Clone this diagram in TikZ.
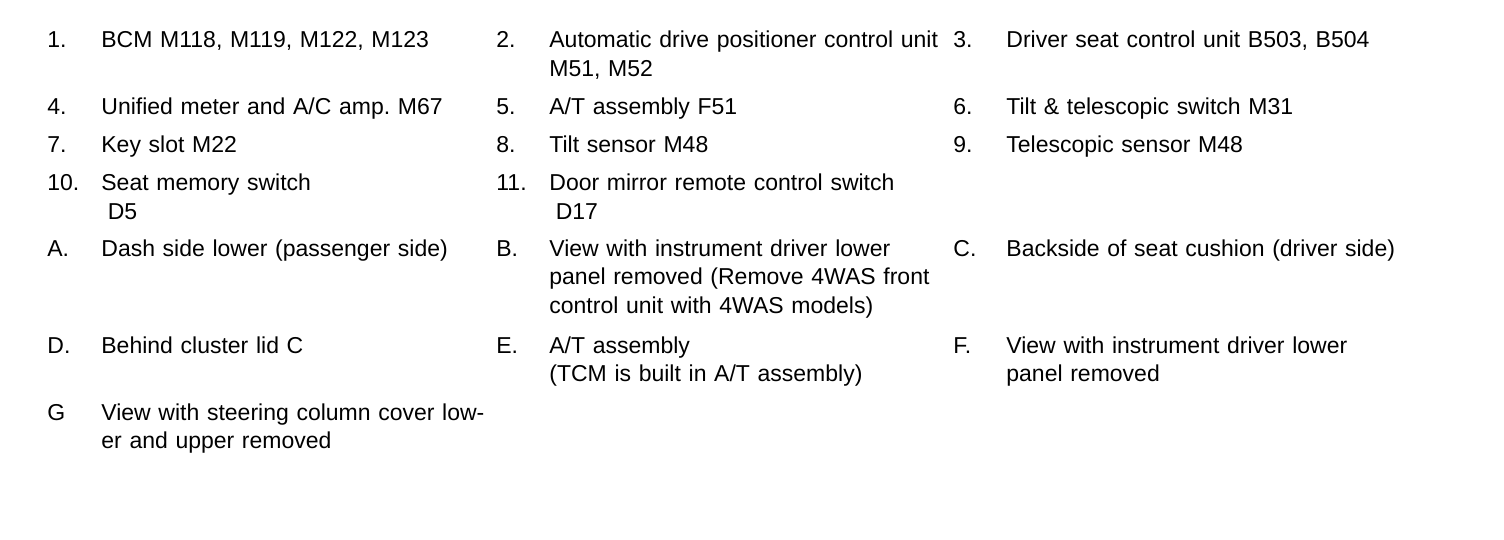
\documentclass[tikz,border=0pt]{standalone}
\usepackage{fontspec}
\setmainfont{Liberation Sans}
\frenchspacing
\begin{document}
\begin{tikzpicture}[x=0.5pt,y=-0.5pt,
  lbl/.style={anchor=base west,inner sep=0pt,font=\fontsize{11.5pt}{14.25pt}\selectfont},
  txt/.style={lbl,text width=230pt,align=left}]
\useasboundingbox (0,0) rectangle (1504,540);
% row 1
\node[lbl] (n1) at (47,48) {1.};
\node[txt] (t1) at (101,48) {BCM M118, M119, M122, M123};
\node[lbl] (n2) at (496,48) {2.};
\node[txt] (t2) at (549,48) {Automatic drive positioner control unit\\M51, M52};
\node[lbl] (n3) at (953,48) {3.};
\node[txt] (t3) at (1006,48) {Driver seat control unit B503, B504};
% row 2
\node[lbl] (n4) at (47,115) {4.};
\node[txt] (t4) at (101,115) {Unified meter and A/C amp. M67};
\node[lbl] (n5) at (496,115) {5.};
\node[txt] (t5) at (549,115) {A/T assembly F51};
\node[lbl] (n6) at (953,115) {6.};
\node[txt] (t6) at (1006,115) {Tilt \& telescopic switch M31};
% row 3
\node[lbl] (n7) at (47,153) {7.};
\node[txt] (t7) at (101,153) {Key slot M22};
\node[lbl] (n8) at (496,153) {8.};
\node[txt] (t8) at (549,153) {Tilt sensor M48};
\node[lbl] (n9) at (953,153) {9.};
\node[txt] (t9) at (1006,153) {Telescopic sensor M48};
% row 4
\node[lbl] (n10) at (47,191) {10.};
\node[txt] (t10) at (101,191) {Seat memory switch\\\hspace*{0.28em}D5};
\node[lbl] (n11) at (496,191) {11.};
\node[txt] (t11) at (549,191) {Door mirror remote control switch\\\hspace*{0.28em}D17};
% row A
\node[lbl] (nA) at (47,256) {A.};
\node[txt] (tA) at (101,256) {Dash side lower (passenger side)};
\node[lbl] (nB) at (496,256) {B.};
\node[txt] (tB) at (549,256) {View with instrument driver lower\\panel removed (Remove 4WAS front\\control unit with 4WAS models)};
\node[lbl] (nC) at (953,256) {C.};
\node[txt] (tC) at (1006,256) {Backside of seat cushion (driver side)};
% row D
\node[lbl] (nD) at (47,353) {D.};
\node[txt] (tD) at (101,353) {Behind cluster lid C};
\node[lbl] (nE) at (496,353) {E.};
\node[txt] (tE) at (549,353) {A/T assembly\\(TCM is built in A/T assembly)};
\node[lbl] (nF) at (953,353) {F.};
\node[txt] (tF) at (1006,353) {View with instrument driver lower\\panel removed};
% row G
\node[lbl] (nG) at (47,420) {G};
\node[txt] (tG) at (101,420) {View with steering column cover low-\\er and upper removed};
\end{tikzpicture}
\end{document}
